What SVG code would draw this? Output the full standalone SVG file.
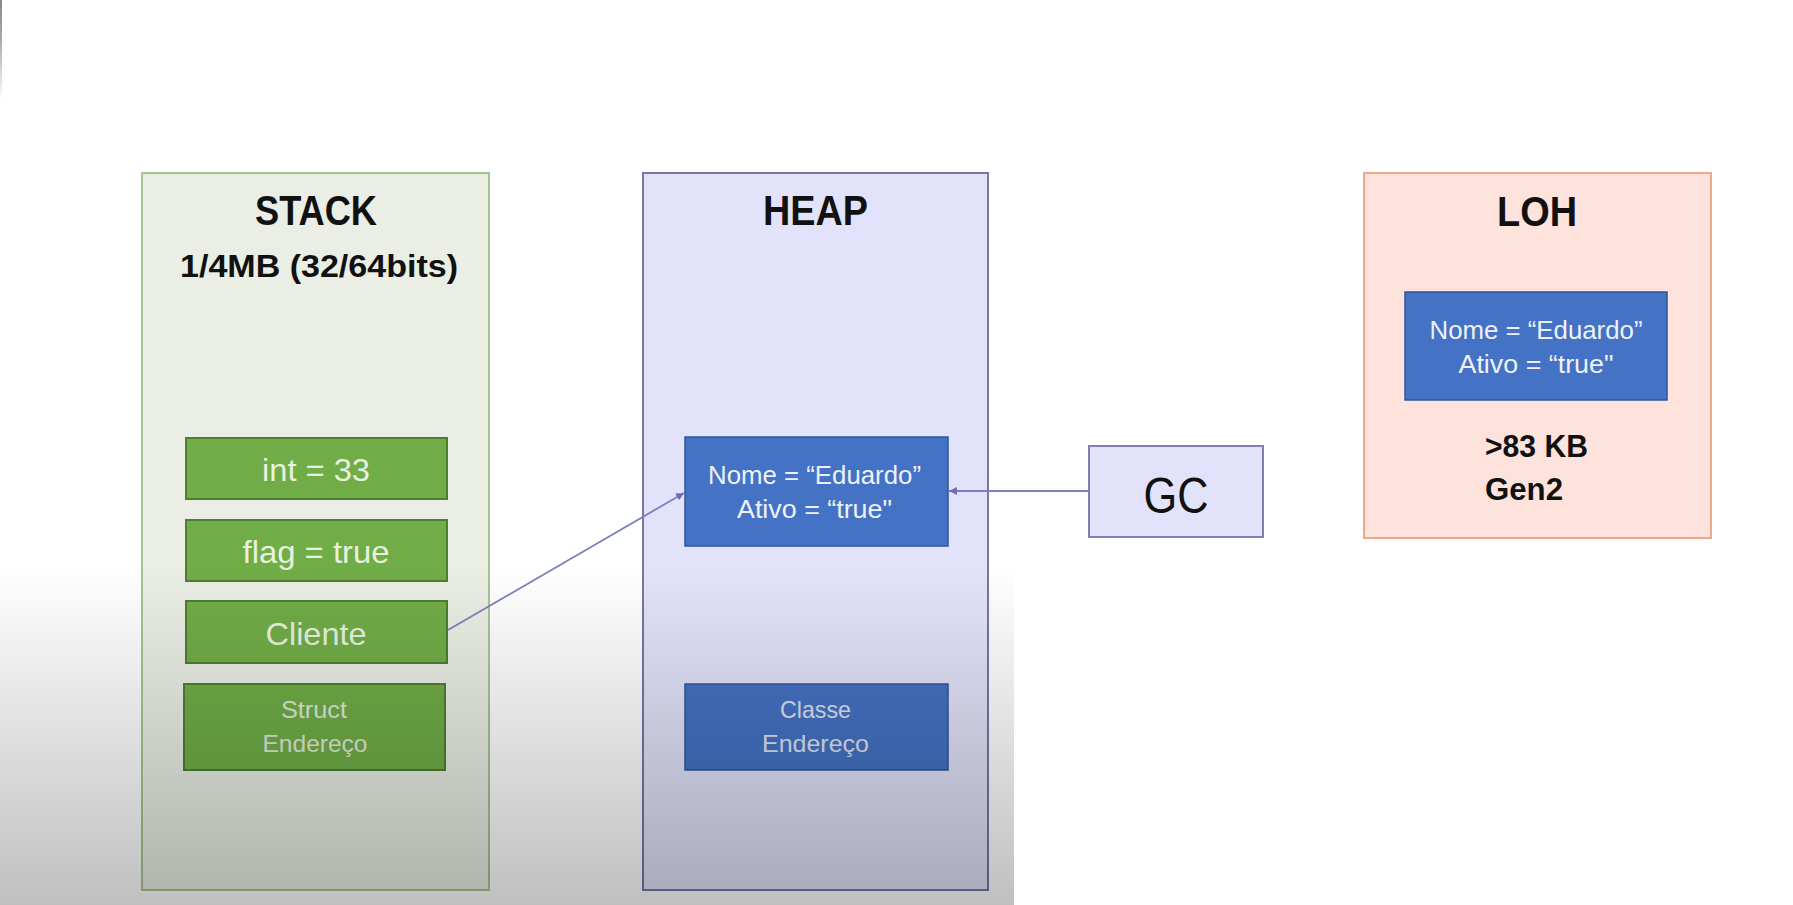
<svg xmlns="http://www.w3.org/2000/svg" width="1793" height="905" viewBox="0 0 1793 905">
  <defs>
    <style>
      .t { font-family: "Liberation Sans", Arial, sans-serif; text-anchor: middle; }
      .title { font-weight: bold; font-size: 42px; fill: #111; }
      .sub { font-weight: bold; font-size: 31px; fill: #111; }
      .gtxt { font-size: 32px; fill: #e8f1df; }
      .gsmall { font-size: 24px; fill: #dfe9d6; }
      .btxt { font-size: 25px; fill: #eef1fa; }
      .bsmall { font-size: 24px; fill: #dde3f2; }
      .green { fill: #70ad47; stroke: #4f7d32; stroke-width: 2; }
      .blue { fill: #4472c4; stroke: #2f5597; stroke-width: 1.5; }
      .conn { stroke: #7a80bd; stroke-width: 1.8; fill: none; }
    </style>
    <marker id="arrow" viewBox="0 0 10 10" refX="10" refY="5" markerWidth="8" markerHeight="8" markerUnits="userSpaceOnUse" orient="auto">
      <path d="M0,0 L10,5 L0,10 z" fill="#6a70b3"/>
    </marker>
    <linearGradient id="shade" x1="0" y1="0" x2="0" y2="1">
      <stop offset="0" stop-color="#000" stop-opacity="0"/>
      <stop offset="0.12" stop-color="#000" stop-opacity="0"/>
      <stop offset="1" stop-color="#000" stop-opacity="0.25"/>
    </linearGradient>
    <linearGradient id="edge" x1="0" y1="0" x2="0" y2="1">
      <stop offset="0" stop-color="#888"/>
      <stop offset="0.4" stop-color="#aaa"/>
      <stop offset="1" stop-color="#fff"/>
    </linearGradient>
  </defs>

  <rect x="0" y="0" width="1793" height="905" fill="#ffffff"/>
  <rect x="0" y="0" width="2" height="100" fill="url(#edge)"/>

  <g id="stack">
    <rect x="142" y="173" width="347" height="717" fill="#eaeee4" stroke="#a8c48e" stroke-width="2"/>
    <text class="t title" x="316" y="225" textLength="122" lengthAdjust="spacingAndGlyphs">STACK</text>
    <text class="t sub" x="319" y="277" textLength="278" lengthAdjust="spacingAndGlyphs">1/4MB (32/64bits)</text>
  </g>

  <g id="int">
    <rect class="green" x="186" y="438" width="261" height="61"/>
    <text class="t gtxt" x="316" y="481" textLength="108" lengthAdjust="spacingAndGlyphs">int = 33</text>
  </g>
  <g id="flag">
    <rect class="green" x="186" y="520" width="261" height="61"/>
    <text class="t gtxt" x="316" y="563" textLength="147" lengthAdjust="spacingAndGlyphs">flag = true</text>
  </g>
  <g id="cliente">
    <rect class="green" x="186" y="601" width="261" height="62"/>
    <text class="t gtxt" x="316" y="645" textLength="101" lengthAdjust="spacingAndGlyphs">Cliente</text>
  </g>
  <g id="struct">
    <rect class="green" x="184" y="684" width="261" height="86"/>
    <text class="t gsmall" x="314" y="718" textLength="66" lengthAdjust="spacingAndGlyphs">Struct</text>
    <text class="t gsmall" x="315" y="752" textLength="105" lengthAdjust="spacingAndGlyphs">Endereço</text>
  </g>

  <g id="heap">
    <rect x="643" y="173" width="345" height="717" fill="#e2e2fa" stroke="#7676a8" stroke-width="2"/>
    <text class="t title" x="815.5" y="225" textLength="105" lengthAdjust="spacingAndGlyphs">HEAP</text>
  </g>
  <g id="heap-obj">
    <rect class="blue" x="685" y="437" width="263" height="109"/>
    <text class="t btxt" x="814.5" y="484" textLength="213" lengthAdjust="spacingAndGlyphs">Nome = “Eduardo”</text>
    <text class="t btxt" x="814.5" y="518" textLength="155" lengthAdjust="spacingAndGlyphs">Ativo = “true"</text>
  </g>
  <g id="classe">
    <rect class="blue" x="685" y="684" width="263" height="86"/>
    <text class="t bsmall" x="815.5" y="718" textLength="71" lengthAdjust="spacingAndGlyphs">Classe</text>
    <text class="t bsmall" x="815.5" y="752" textLength="107" lengthAdjust="spacingAndGlyphs">Endereço</text>
  </g>

  <g id="gc">
    <rect x="1089" y="446" width="174" height="91" fill="#e2e2fa" stroke="#7f7fb3" stroke-width="2"/>
    <text class="t" x="1176" y="513" font-size="50" fill="#111" textLength="65" lengthAdjust="spacingAndGlyphs">GC</text>
  </g>

  <g id="loh">
    <rect x="1364" y="173" width="347" height="365" fill="#fde3dc" stroke="#eea98c" stroke-width="2"/>
    <text class="t title" x="1537" y="226" textLength="80" lengthAdjust="spacingAndGlyphs">LOH</text>
    <text class="t sub" x="1485" y="457" font-size="30" style="text-anchor:start" textLength="103" lengthAdjust="spacingAndGlyphs">&gt;83 KB</text>
    <text class="t sub" x="1485" y="500" font-size="30" style="text-anchor:start" textLength="78" lengthAdjust="spacingAndGlyphs">Gen2</text>
  </g>
  <g id="loh-obj">
    <rect class="blue" x="1405" y="292" width="262" height="108"/>
    <text class="t btxt" x="1536" y="339" textLength="213" lengthAdjust="spacingAndGlyphs">Nome = “Eduardo”</text>
    <text class="t btxt" x="1536" y="373" textLength="155" lengthAdjust="spacingAndGlyphs">Ativo = “true"</text>
  </g>

  <g id="connectors">
    <line class="conn" x1="448" y1="630" x2="684" y2="493" marker-end="url(#arrow)"/>
    <line class="conn" x1="1088" y1="491" x2="949" y2="491" marker-end="url(#arrow)"/>
  </g>

  <rect x="0" y="520" width="1014" height="385" fill="url(#shade)" pointer-events="none"/>
</svg>
